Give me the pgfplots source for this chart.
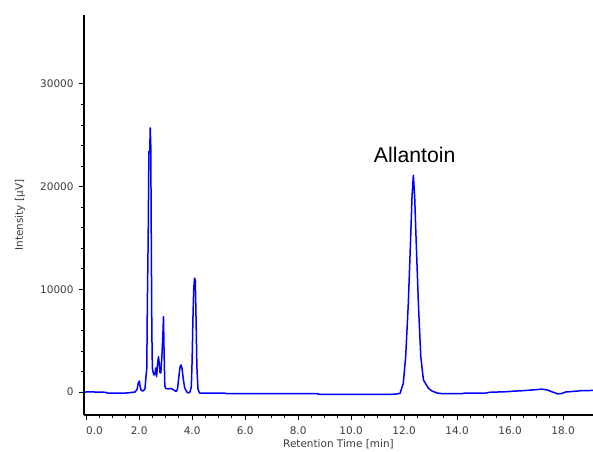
\documentclass[border=0pt]{standalone}
\usepackage{pgfplots}
\pgfplotsset{compat=1.18}
\usepackage{fontspec}
\setmainfont{DejaVu Sans}
\newfontfamily\arialfont{Liberation Sans}
\definecolor{tickgray}{RGB}{60,60,60}
\begin{document}
\begin{tikzpicture}
\begin{axis}[
  scale only axis,
  width=509bp, height=400bp,
  xmin=-0.08, xmax=19.13,
  ymin=-2240, ymax=36700,
  axis lines*=left,
  axis line style={black, line width=1.4bp},
  tick align=outside,
  major tick length=5bp,
  minor tick length=3bp,
  tick style={black, line width=0.8bp},
  xtick={0,2,...,18},
  xticklabels={\makebox[0pt][l]{0.0},2.0,4.0,6.0,8.0,10.0,12.0,14.0,16.0,18.0},
  minor x tick num=3,
  ytick={0,10000,20000,30000},
  minor y tick num=4,
  scaled ticks=false,
  /pgf/number format/1000 sep={},
  /pgf/number format/assume math mode=true,
  tick label style={font=\fontsize{10.5}{12}\selectfont, text=tickgray},
  x tick label style={yshift=-3bp},
  y tick label style={xshift=-2bp},
  every axis x label/.style={at={(axis description cs:0.5,0)}, yshift=-29bp, anchor=center},
  every axis y label/.style={at={(axis description cs:0,0.5)}, xshift=-64bp, rotate=90, anchor=center},
  label style={font=\fontsize{10.5}{12}\selectfont, text=tickgray},
  xlabel={Retention Time [min]},
  ylabel={Intensity [µV]},
  clip=true,
]
\addplot[blue, line width=1.5bp, line join=round] coordinates {
(-0.08,-20) (0.0,0) (0.3,0) (0.75,-30) (0.8,-100) (1.5,-100) (1.7,-50) (1.85,0)
(1.93,300) (1.97,900) (2.01,1050) (2.04,500) (2.08,150) (2.15,100) (2.22,300)
(2.26,1500) (2.29,2300) (2.31,8300) (2.34,14500) (2.37,23400) (2.40,23300)
(2.42,25700) (2.44,24000) (2.46,14500) (2.48,6000) (2.50,2340) (2.53,1900)
(2.56,1650) (2.60,1800) (2.63,2340) (2.66,1500) (2.70,2800) (2.73,3440) (2.76,2800)
(2.79,1850) (2.82,1850) (2.86,3500) (2.90,5800) (2.92,7330) (2.94,4200) (2.97,600)
(3.0,350) (3.1,300) (3.2,350) (3.3,200) (3.4,50) (3.45,300) (3.5,1500) (3.55,2500)
(3.58,2630) (3.62,2300) (3.67,1200) (3.72,400) (3.8,0) (3.86,-100) (3.92,0)
(3.97,500) (4.0,3000) (4.03,7000) (4.06,10000) (4.09,11070) (4.12,10900) (4.15,7000)
(4.18,2500) (4.22,300) (4.28,-100) (5.2,-100) (5.3,-150) (8.7,-150) (8.8,-230)
(11.5,-230) (11.7,-200) (11.85,-130) (11.97,850) (12.06,3440) (12.16,8640)
(12.25,15130) (12.30,19000) (12.35,21100) (12.40,19000) (12.45,15130) (12.54,8640)
(12.63,3440) (12.73,1170) (12.92,360) (13.05,100) (13.25,-100) (13.4,-150)
(14.2,-150) (14.3,-100) (15.1,-100) (15.2,-30) (15.9,30) (16.0,60) (16.5,130)
(17.0,230) (17.2,280) (17.4,200) (17.6,0) (17.8,-180) (17.95,-150) (18.1,0)
(18.5,80) (18.7,130) (19.13,150)
};
\node[font=\arialfont\fontsize{21.3}{24}\selectfont, anchor=base, text=black] at (axis cs:12.4,22300) {Allantoin};
\coordinate (bl) at (rel axis cs:0,0);
\coordinate (tr) at (rel axis cs:1,1);
\end{axis}
\pgfresetboundingbox
\path ([xshift=-84bp,yshift=-37bp]bl) rectangle ([yshift=15bp]tr);
\end{tikzpicture}
\end{document}
